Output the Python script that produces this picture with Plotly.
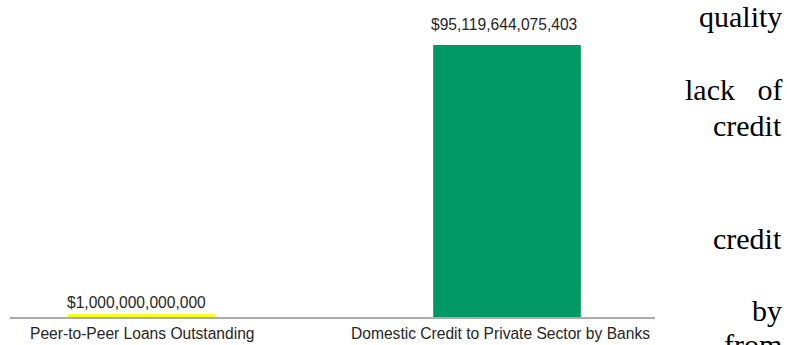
import plotly.graph_objects as go

categories = ["Peer-to-Peer Loans Outstanding", "Domestic Credit to Private Sector by Banks"]
values = [1_000_000_000_000, 95_119_644_075_403]
value_labels = ["$1,000,000,000,000", "$95,119,644,075,403"]
bar_colors = ["#ffff00", "#009966"]
side_words = ["quality", "lack\u00a0\u00a0\u00a0of", "credit", "credit", "by", "from"]
side_word_px = [16, 89, 126, 238, 310.5, 345]

W, H = 787, 345
ML, MR, MT, MB = 10, 132, 0, 28
plot_h = H - MT - MB

fig = go.Figure()
fig.add_trace(go.Bar(
    x=[0, 1], y=values, marker=dict(color=bar_colors, line=dict(width=0)),
    width=0.404, hoverinfo="skip", showlegend=False,
))

label_font = dict(family="Liberation Sans, Arial", size=15.6, color="#262626")
val_yshift = [1.5, 10.0]
val_xshift = [-5, -3]
for i, (v, lab) in enumerate(zip(values, value_labels)):
    fig.add_annotation(x=i, y=v, xref="x", yref="y", text=lab, showarrow=False,
                       yanchor="bottom", yshift=val_yshift[i], xshift=val_xshift[i], font=label_font)

cat_xshift = [1, -7]
for i, c in enumerate(categories):
    fig.add_annotation(x=i, y=0, xref="x", yref="y", text=c, showarrow=False,
                       yanchor="middle", yshift=-16, xshift=cat_xshift[i], font=label_font)

for w, py in zip(side_words, side_word_px):
    fig.add_annotation(x=(784 - ML) / (W - ML - MR), y=(plot_h + MT - py) / plot_h,
                       xref="paper", yref="paper", text=w, showarrow=False,
                       xanchor="right", yanchor="middle",
                       font=dict(family="Liberation Serif, Times New Roman", size=30, color="#000000"))

ymax = values[1] * 317 / 272
fig.update_layout(
    width=W, height=H, margin=dict(l=ML, r=MR, t=MT, b=MB),
    paper_bgcolor="white", plot_bgcolor="white",
    xaxis=dict(range=[-0.3598, 1.4049], showgrid=False, zeroline=False, showticklabels=False,
               showline=True, linecolor="#ababab", linewidth=2, ticks=""),
    yaxis=dict(range=[0, ymax], visible=False),
)
fig.write_html("out.html")
